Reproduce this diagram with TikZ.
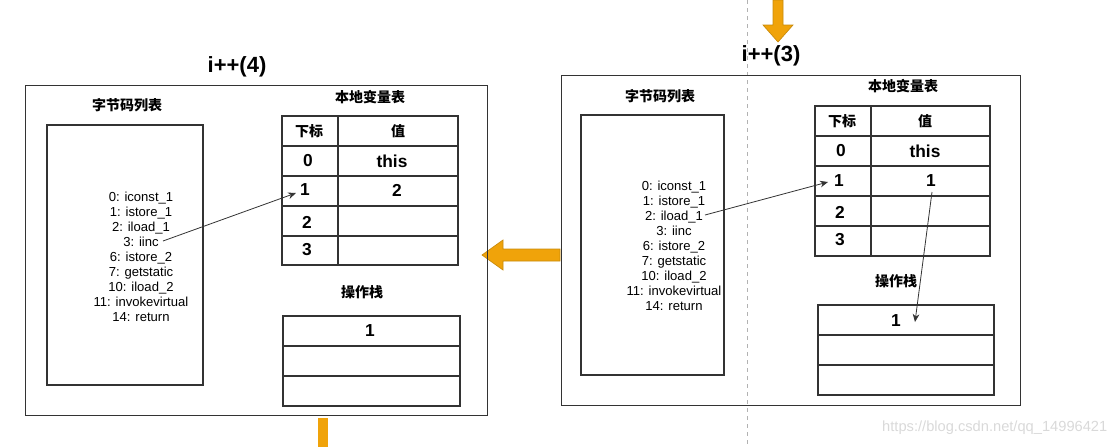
\documentclass[tikz,border=0pt]{standalone}
\usepackage{fontspec}
\setmainfont{Liberation Sans}
\newfontfamily\cjk{Noto Sans CJK SC}
\usetikzlibrary{arrows.meta}
\definecolor{org}{HTML}{F0A30A}
\definecolor{orgd}{HTML}{C88A0A}
\begin{document}
\begin{tikzpicture}[x=0.75pt,y=-0.75pt,
  box/.style={draw=black!80,line width=0.8pt},
  cn/.style={font=\cjk\bfseries\fontsize{10.5}{11}\selectfont},
  big/.style={font=\bfseries\fontsize{13}{14}\selectfont},
  code/.style={font=\fontsize{9.8}{11.25}\selectfont,align=center},
  ttl/.style={font=\bfseries\fontsize{16.5}{17}\selectfont},
  ar/.style={-{Stealth[length=6pt,width=5pt]},line width=0.6pt,black!80},
  oarrow/.style={fill=org,draw=orgd,line width=0.5pt}]
\useasboundingbox (0,0) rectangle (1114,447);
\draw[black!30,dashed,line width=0.4pt] (747,0) -- (747,447);
% orange arrows
\draw[oarrow] (773,0) -- (783,0) -- (783,25) -- (793,25) -- (778,42) -- (763,25) -- (773,25) -- cycle;
\draw[oarrow] (560,249) -- (560,261) -- (503,261) -- (503,270) -- (482,255) -- (503,240) -- (503,249) -- cycle;
\fill[org] (318,418) rectangle (328,447);
% ---------- left frame ----------
\node[box,minimum width=462*0.75pt,minimum height=330*0.75pt,anchor=north west,inner sep=0] (LF) at (25,85) {};
\node[ttl] (Lt) at (237,67) {i++(4)};
\node[cn] (Lbl) at (127,105) {字节码列表};
\draw[box] (47,125) rectangle (203,385);
\node[code] (Lcode) at (141,257) {0: iconst\_1\\1: istore\_1\\2: iload\_1\\3: iinc\\6: istore\_2\\7: getstatic\\10: iload\_2\\11: invokevirtual\\14: return};
\node[cn] (Lvt) at (370,97) {本地变量表};
\draw[box] (282,116) rectangle (458,265);
\foreach \y in {146,176,206,236} \draw[box] (282,\y) -- (458,\y);
\draw[box] (338,116) -- (338,265);
\node[cn] (Lh1) at (309,131) {下标};
\node[cn] (Lh2) at (398,131) {值};
\node[big] (L0) at (308,161) {0};
\node[big] (Lthis) at (392,161) {this};
\node[big] (L1) at (305,190) {1};
\node[big] (Lv1) at (397,190) {2};
\node[big] (L2) at (307,222) {2};
\node[big] (L3) at (307,250) {3};
\node[cn] (Lop) at (362,292) {操作栈};
\draw[box] (283,316) rectangle (460,406);
\draw[box] (283,346) -- (460,346);
\draw[box] (283,376) -- (460,376);
\node[big] (Ls1) at (370,331) {1};
\coordinate (Lfrom) at (163,241);
\coordinate (Lto) at (296,193);
\draw[ar] (Lfrom) -- (Lto);
% ---------- right frame ----------
\node[box,minimum width=459*0.75pt,minimum height=330*0.75pt,anchor=north west,inner sep=0] (RF) at (561,75) {};
\node[ttl] (Rt) at (771,56) {i++(3)};
\node[cn] (Rbl) at (660,96) {字节码列表};
\draw[box] (581,115) rectangle (724,375);
\node[code] (Rcode) at (674,246) {0: iconst\_1\\1: istore\_1\\2: iload\_1\\3: iinc\\6: istore\_2\\7: getstatic\\10: iload\_2\\11: invokevirtual\\14: return};
\node[cn] (Rvt) at (903,86) {本地变量表};
\draw[box] (815,106) rectangle (990,256);
\foreach \y in {136,166,196,226} \draw[box] (815,\y) -- (990,\y);
\draw[box] (871,106) -- (871,256);
\node[cn] (Rh1) at (842,121) {下标};
\node[cn] (Rh2) at (925,121) {值};
\node[big] (R0) at (841,151) {0};
\node[big] (Rthis) at (925,151) {this};
\node[big] (R1) at (839,181) {1};
\node[big] (Rv1) at (931,181) {1};
\node[big] (R2) at (840,212) {2};
\node[big] (R3) at (840,240) {3};
\node[cn] (Rop) at (896,281) {操作栈};
\draw[box] (818,305) rectangle (994,395);
\draw[box] (818,335) -- (994,335);
\draw[box] (818,365) -- (994,365);
\node[big] (Rs1) at (896,321) {1};
\coordinate (Rfrom) at (705,215);
\coordinate (Rto) at (828,182);
\draw[ar] (Rfrom) -- (Rto);
\coordinate (Rf2) at (932,192);
\coordinate (Rt2) at (915,322);
\draw[ar] (Rf2) -- (Rt2);
\node[black!15,font=\fontsize{11}{12}\selectfont,anchor=east] (wm) at (1112,428) {https://blog.csdn.net/qq\_14996421};
\end{tikzpicture}
\end{document}
